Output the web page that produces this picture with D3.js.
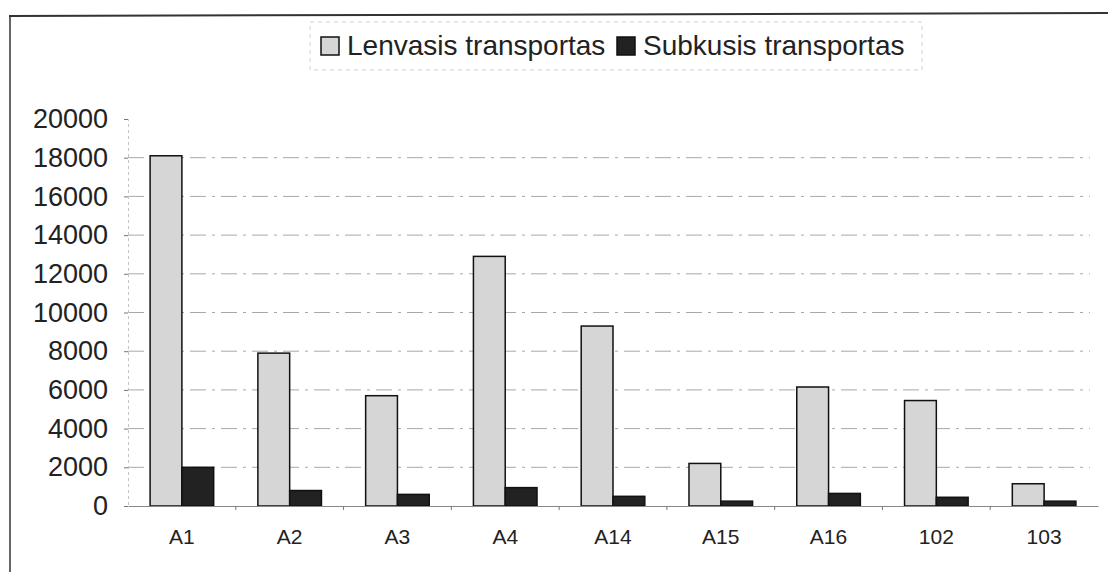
<!DOCTYPE html>
<html>
<head>
<meta charset="utf-8">
<script src="https://cdn.jsdelivr.net/npm/d3@7"></script>
<style>
  body { margin: 0; background: #fff; }
  svg { font-family: "Liberation Sans", Arial, sans-serif; }
</style>
</head>
<body>
<div id="chart"></div>
<script>
'use strict';

const categories = ['A1', 'A2', 'A3', 'A4', 'A14', 'A15', 'A16', '102', '103'];
const seriesNames = ['Lenvasis transportas', 'Subkusis transportas'];
const lenvasis = [18100, 7900, 5700, 12900, 9300, 2200, 6150, 5450, 1150];
const subkusis = [2000, 800, 600, 950, 500, 250, 650, 450, 250];
const yTicks = [0, 2000, 4000, 6000, 8000, 10000, 12000, 14000, 16000, 18000, 20000];

const width = 1108, height = 572;
const margin = {top: 119, right: 10, bottom: 66, left: 128};
const colors = ['#d6d6d6', '#222222'];

const svg = d3.select('#chart').append('svg')
  .attr('width', width)
  .attr('height', height);

// scanned frame: top and left borders
svg.append('line')
  .attr('x1', 9).attr('y1', 16).attr('x2', width).attr('y2', 13)
  .attr('stroke', '#333').attr('stroke-width', 2);
svg.append('line')
  .attr('x1', 10).attr('y1', 16).attr('x2', 10).attr('y2', height)
  .attr('stroke', '#333').attr('stroke-width', 1.5);

const x = d3.scaleBand()
  .domain(categories)
  .range([margin.left, margin.left + 970])
  .paddingInner(0.41)
  .paddingOuter(0.205);

const x1 = d3.scaleBand()
  .domain(seriesNames)
  .range([0, x.bandwidth()]);

const y = d3.scaleLinear()
  .domain([0, 20000])
  .range([height - margin.bottom, margin.top]);

// gridlines
svg.append('g')
  .selectAll('line')
  .data(yTicks.filter(t => t > 0 && t < 20000))
  .enter().append('line')
    .attr('x1', margin.left).attr('x2', margin.left + 962)
    .attr('y1', d => y(d)).attr('y2', d => y(d))
    .attr('stroke', '#a8a8a8')
    .attr('stroke-width', 1)
    .attr('stroke-dasharray', '16,6,3,6');

// y axis
const yAxis = d3.axisLeft(y)
  .tickValues(yTicks)
  .tickFormat(d3.format('d'))
  .tickSize(4)
  .tickPadding(16);
const yg = svg.append('g')
  .attr('transform', 'translate(' + margin.left + ',0)')
  .call(yAxis);
yg.select('.domain').attr('stroke', '#c4c4c4').attr('stroke-dasharray', '3,3');
yg.selectAll('.tick line').attr('stroke', '#777');
yg.selectAll('text')
  .attr('font-size', 27)
  .attr('fill', '#222');

// bars
const data = categories.map((c, i) => ({
  cat: c,
  vals: [
    {name: seriesNames[0], value: lenvasis[i]},
    {name: seriesNames[1], value: subkusis[i]},
  ],
}));

const groups = svg.append('g')
  .selectAll('g')
  .data(data)
  .enter().append('g')
    .attr('transform', d => 'translate(' + x(d.cat) + ',0)');

groups.selectAll('rect')
  .data(d => d.vals)
  .enter().append('rect')
    .attr('x', d => x1(d.name))
    .attr('width', x1.bandwidth())
    .attr('y', d => y(d.value))
    .attr('height', d => y(0) - y(d.value))
    .attr('fill', (d, j) => colors[j])
    .attr('stroke', '#111')
    .attr('stroke-width', 1.5);

// x axis
const xAxis = d3.axisBottom(x).tickSize(0).tickPadding(23);
const xg = svg.append('g')
  .attr('transform', 'translate(0,' + y(0) + ')')
  .call(xAxis);
xg.select('.domain').attr('stroke', '#888');
xg.selectAll('text')
  .attr('font-size', 21)
  .attr('fill', '#222');
// small ticks between categories
const step = x.step();
xg.append('g')
  .selectAll('line')
  .data(categories.slice(1))
  .enter().append('line')
    .attr('x1', d => x(d) - step * x.paddingInner() / 2)
    .attr('x2', d => x(d) - step * x.paddingInner() / 2)
    .attr('y1', 0).attr('y2', 4)
    .attr('stroke', '#777');

// legend
const legend = svg.append('g').attr('transform', 'translate(310,22)');
legend.append('rect')
  .attr('width', 612).attr('height', 48)
  .attr('fill', 'none')
  .attr('stroke', '#d0d0d0')
  .attr('stroke-dasharray', '4,4');

const legendItems = [{x: 11, name: seriesNames[0]}, {x: 307, name: seriesNames[1]}];
legendItems.forEach((it, j) => {
  legend.append('rect')
    .attr('x', it.x).attr('y', 15)
    .attr('width', 18).attr('height', 18)
    .attr('fill', colors[j])
    .attr('stroke', '#111')
    .attr('stroke-width', 1.5);
  legend.append('text')
    .attr('x', it.x + 26).attr('y', 33)
    .attr('font-size', 28)
    .attr('fill', '#222')
    .text(it.name);
});
</script>
</body>
</html>
